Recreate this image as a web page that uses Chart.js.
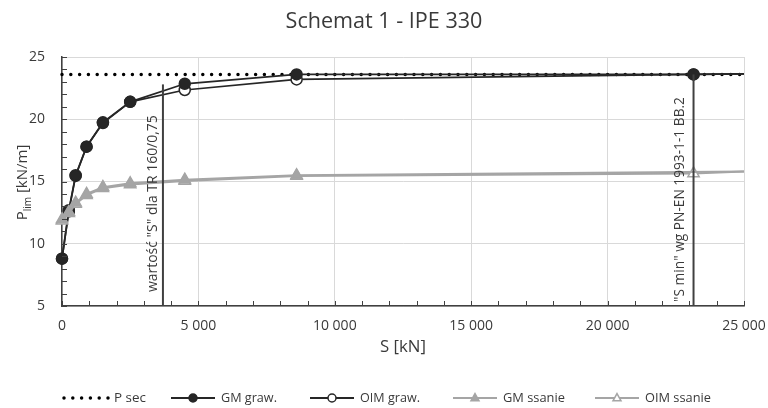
<!DOCTYPE html>
<html>
<head>
<meta charset="utf-8">
<script src="https://cdn.jsdelivr.net/npm/chart.js@4.4.1/dist/chart.umd.min.js"></script>
<style>
  html, body { margin: 0; padding: 0; background: #fff; }
</style>
</head>
<body>
<canvas id="chart" width="768" height="408"></canvas>
<script>
// ── dane ──
const sValues   = [0, 250, 500, 900, 1500, 2500, 4500, 8600, 23150, 25000];
const gmGraw    = [8.8, 12.7, 15.5, 17.8, 19.75, 21.4, 22.85, 23.6, 23.6, 23.65];
const oimGraw   = [8.8, 12.6, 15.45, 17.8, 19.7, 21.4, 22.35, 23.2, 23.6, 23.65];
const gmSsanie  = [11.95, 12.55, 13.3, 14.0, 14.55, 14.85, 15.15, 15.5, null, 15.8];
const oimSsanie = [11.85, 12.45, 13.2, 13.9, 14.45, 14.75, 15.05, 15.45, 15.65, 15.8];
const pSec      = 23.6;
const sRange    = [0, 25000];
const sTR       = 3700;   // wartość "S" dla TR 160/0,75
const sTRtop    = 22.8;
const sMin      = 23150;  // "S min" wg PN-EN 1993-1-1 BB.2
const sMinTop   = 23.6;
const yRange    = [5, 25];
const xTicks    = [0, 5000, 10000, 15000, 20000, 25000];
const yTicks    = [5, 10, 15, 20, 25];

const FONT = '"Open Sans", Lato, sans-serif';
const TXT = '#3a3a3a';
const DARK = '#262626';
const GREY = '#a5a5a5';

const pts = ys => sValues.map((x, i) => ({ x, y: ys[i] }));
const lastHidden = r => c => c.dataIndex === sValues.length - 1 ? 0 : r;
const fmt = v => String(v).replace(/\B(?=(\d{3})+(?!\d))/g, ' ');

// rozmiar czcionki dobrany do szerokości tekstu
function fit(ctx, text, width) {
    ctx.font = `20px ${FONT}`;
    const size = 20 * width / ctx.measureText(text).width;
    ctx.font = `${size}px ${FONT}`;
    return size;
}

function vText(ctx, text, x, y) {
    ctx.save();
    ctx.translate(x, y);
    ctx.rotate(-Math.PI / 2);
    ctx.textAlign = 'left';
    ctx.textBaseline = 'alphabetic';
    ctx.fillText(text, 0, 0);
    ctx.restore();
}

function marker(ctx, style, x, y, r, fill, stroke) {
    ctx.save();
    ctx.fillStyle = fill;
    ctx.strokeStyle = stroke;
    ctx.lineWidth = 1.5;
    ctx.beginPath();
    if (style === 'circle') {
        ctx.arc(x, y, r, 0, Math.PI * 2);
    } else {
        ctx.moveTo(x, y - r * 1.1);
        ctx.lineTo(x + r, y + r * 0.7);
        ctx.lineTo(x - r, y + r * 0.7);
        ctx.closePath();
    }
    ctx.fill();
    ctx.stroke();
    ctx.restore();
}

// ── rysunki dodatkowe: tytuły, podziałki pomocnicze, opisy, legenda ──
const decor = {
    id: 'decor',
    afterDraw(chart) {
        const { ctx, chartArea: a, scales: { x, y } } = chart;
        ctx.save();

        // podziałki pomocnicze
        ctx.strokeStyle = '#404040';
        ctx.lineWidth = 1;
        ctx.beginPath();
        for (let v = sRange[0]; v <= sRange[1]; v += 1000) {
            const px = Math.round(x.getPixelForValue(v)) + 0.5;
            ctx.moveTo(px, a.bottom);
            ctx.lineTo(px, a.bottom - 5);
        }
        for (let v = yRange[0]; v <= yRange[1]; v += 1) {
            const py = Math.round(y.getPixelForValue(v)) + 0.5;
            ctx.moveTo(a.left, py);
            ctx.lineTo(a.left + 5, py);
        }
        ctx.stroke();

        ctx.fillStyle = TXT;

        // tytuł
        ctx.textAlign = 'center';
        ctx.textBaseline = 'middle';
        fit(ctx, 'Schemat 1 - IPE 330', 197);
        ctx.fillText('Schemat 1 - IPE 330', chart.width / 2, 22);

        // oś X
        fit(ctx, 'S [kN]', 46);
        ctx.fillText('S [kN]', (a.left + a.right) / 2, 347);

        // oś Y z indeksem dolnym
        ctx.save();
        ctx.translate(22, (a.top + a.bottom) / 2 + 1);
        ctx.rotate(-Math.PI / 2);
        ctx.textBaseline = 'alphabetic';
        ctx.textAlign = 'left';
        const p = 'P', sub = 'lim', rest = ' [kN/m]';
        ctx.font = `15px ${FONT}`;
        const wP = ctx.measureText(p).width, wR = ctx.measureText(rest).width;
        ctx.font = `10px ${FONT}`;
        const wS = ctx.measureText(sub).width;
        let cx = -(wP + wS + wR) / 2;
        ctx.font = `15px ${FONT}`;
        ctx.fillText(p, cx, 5); cx += wP;
        ctx.font = `10px ${FONT}`;
        ctx.fillText(sub, cx, 9); cx += wS;
        ctx.font = `15px ${FONT}`;
        ctx.fillText(rest, cx, 5);
        ctx.restore();

        // opisy linii pionowych
        const t1 = 'wartość "S" dla TR 160/0,75', t2 = '"S min" wg PN-EN 1993-1-1 BB.2';
        fit(ctx, t1, 177);
        vText(ctx, t1, x.getPixelForValue(sTR) - 6, a.bottom - 14);
        fit(ctx, t2, 205);
        vText(ctx, t2, x.getPixelForValue(sMin) - 10, a.bottom - 4);

        // legenda
        const ly = 398;
        ctx.textAlign = 'left';
        ctx.textBaseline = 'middle';

        ctx.save();
        ctx.strokeStyle = '#000';
        ctx.lineWidth = 3.5;
        ctx.lineCap = 'round';
        ctx.setLineDash([0, 8.8]);
        ctx.beginPath();
        ctx.moveTo(64, ly); ctx.lineTo(110, ly);
        ctx.stroke();
        ctx.restore();
        fit(ctx, 'P sec', 32);
        ctx.fillText('P sec', 114, ly);

        const items = [
            { label: 'GM graw.',   x0: 171, x1: 215, w: 56, color: DARK, style: 'circle',   fill: DARK },
            { label: 'OIM graw.',  x0: 310, x1: 354, w: 60, color: DARK, style: 'circle',   fill: '#fff' },
            { label: 'GM ssanie',  x0: 453, x1: 497, w: 62, color: GREY, style: 'triangle', fill: GREY },
            { label: 'OIM ssanie', x0: 595, x1: 639, w: 66, color: GREY, style: 'triangle', fill: '#fff' }
        ];
        items.forEach(it => {
            ctx.strokeStyle = it.color;
            ctx.lineWidth = 2;
            ctx.beginPath();
            ctx.moveTo(it.x0, ly); ctx.lineTo(it.x1, ly);
            ctx.stroke();
            marker(ctx, it.style, (it.x0 + it.x1) / 2, ly, 4, it.fill, it.color);
            ctx.fillStyle = TXT;
            fit(ctx, it.label, it.w);
            ctx.fillText(it.label, it.x1 + 6, ly);
        });

        ctx.restore();
    }
};

// ── wykres ──
const ctx = document.getElementById('chart').getContext('2d');
new Chart(ctx, {
    type: 'scatter',
    data: {
        datasets: [
            {
                label: 'S min',
                data: [{ x: sMin, y: yRange[0] }, { x: sMin, y: sMinTop }],
                showLine: true, borderColor: '#404040', borderWidth: 2,
                pointRadius: 0, order: 0
            },
            {
                label: 'TR',
                data: [{ x: sTR, y: yRange[0] }, { x: sTR, y: sTRtop }],
                showLine: true, borderColor: '#404040', borderWidth: 2,
                pointRadius: 0, order: 1
            },
            {
                label: 'GM ssanie',
                data: pts(gmSsanie),
                showLine: true, spanGaps: true,
                borderColor: GREY, borderWidth: 2,
                pointStyle: 'triangle', pointRadius: lastHidden(6.5),
                pointBackgroundColor: GREY, pointBorderColor: GREY, pointBorderWidth: 1.5,
                order: 2
            },
            {
                label: 'OIM ssanie',
                data: pts(oimSsanie),
                showLine: true,
                borderColor: GREY, borderWidth: 2,
                pointStyle: 'triangle', pointRadius: lastHidden(6.5),
                pointBackgroundColor: '#fff', pointBorderColor: GREY, pointBorderWidth: 1.5,
                order: 3
            },
            {
                label: 'GM graw.',
                data: pts(gmGraw),
                showLine: true,
                borderColor: DARK, borderWidth: 1.75,
                pointStyle: 'circle', pointRadius: lastHidden(5.5),
                pointBackgroundColor: DARK, pointBorderColor: DARK, pointBorderWidth: 1.5,
                order: 4
            },
            {
                label: 'OIM graw.',
                data: pts(oimGraw),
                showLine: true,
                borderColor: DARK, borderWidth: 1.75,
                pointStyle: 'circle', pointRadius: lastHidden(5.5),
                pointBackgroundColor: '#fff', pointBorderColor: DARK, pointBorderWidth: 1.5,
                order: 5
            },
            {
                label: 'P sec',
                data: sRange.map(x => ({ x, y: pSec })),
                showLine: true,
                borderColor: '#000', borderWidth: 3.5,
                borderDash: [0, 8.8], borderCapStyle: 'round',
                pointRadius: 0, order: 6
            }
        ].map(d => ({ ...d, clip: false, pointHoverRadius: 0 }))
    },
    options: {
        responsive: false,
        animation: false,
        events: [],
        layout: { padding: { top: 57, right: 24, left: 0, bottom: 0 } },
        plugins: { legend: { display: false }, title: { display: false }, tooltip: { enabled: false } },
        scales: {
            x: {
                type: 'linear',
                min: sRange[0], max: sRange[1],
                afterBuildTicks: s => { s.ticks = xTicks.map(value => ({ value })); },
                afterFit: s => { s.height = 102; s.paddingLeft = 0; s.paddingRight = 0; },
                grid: { color: '#d9d9d9', lineWidth: 1, drawTicks: false },
                border: { color: '#404040', width: 1.5 },
                ticks: { color: TXT, font: { family: FONT, size: 14 }, padding: 12, callback: v => fmt(v), maxRotation: 0 }
            },
            y: {
                type: 'linear',
                min: yRange[0], max: yRange[1],
                afterBuildTicks: s => { s.ticks = yTicks.map(value => ({ value })); },
                afterFit: s => { s.width = 62; s.paddingTop = 0; s.paddingBottom = 0; },
                grid: { color: '#d9d9d9', lineWidth: 1, drawTicks: false },
                border: { color: '#404040', width: 1.5 },
                ticks: { color: TXT, font: { family: FONT, size: 14 }, padding: 17 }
            }
        }
    },
    plugins: [decor]
});
</script>
</body>
</html>
